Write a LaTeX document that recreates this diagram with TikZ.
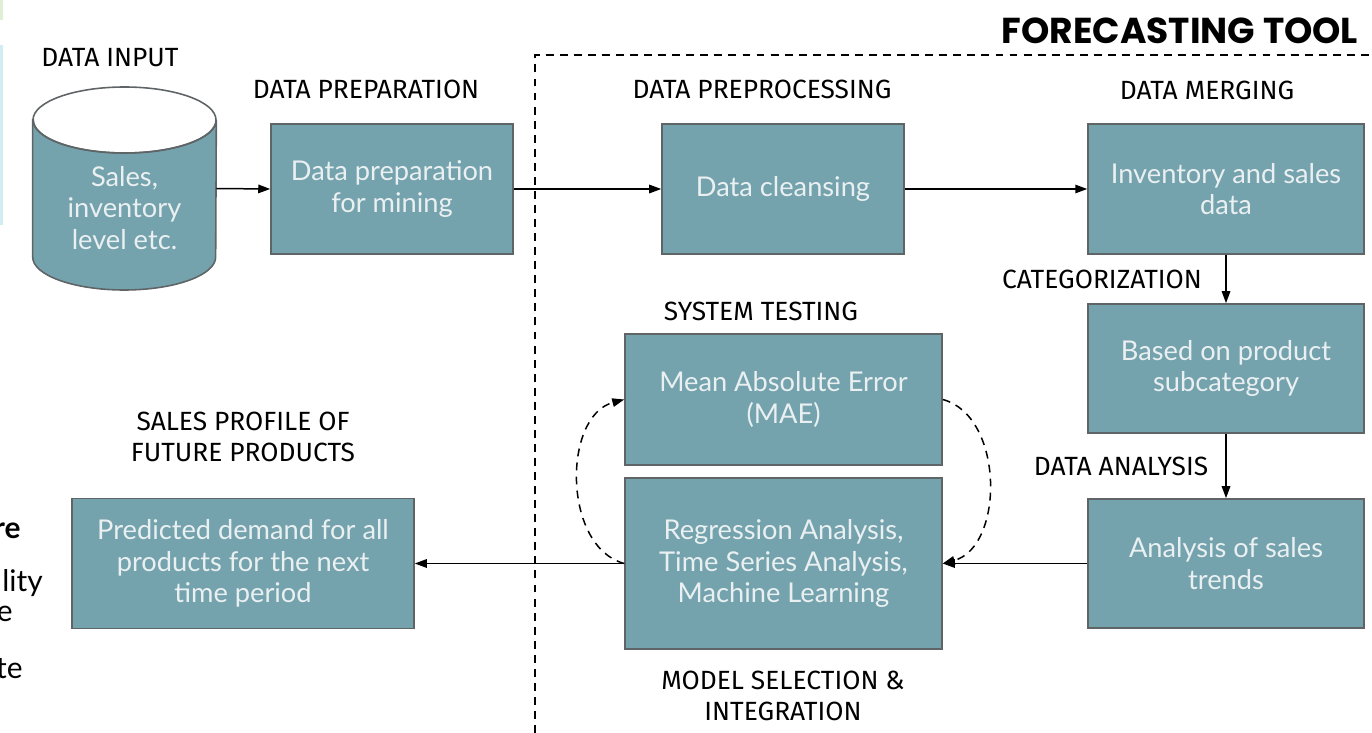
\documentclass[tikz,border=0pt]{standalone}
\usepackage{fontspec}
\setmainfont{Lato}
\newfontfamily\headfont{Fira Sans}
\newfontfamily\titlefont{Poppins}
\usetikzlibrary{arrows.meta}

\definecolor{boxteal}{RGB}{116,163,174}
\definecolor{boxline}{RGB}{95,100,102}
\definecolor{boxtext}{RGB}{234,240,241}
\definecolor{edgegreen}{RGB}{224,240,214}
\definecolor{edgecyan}{RGB}{208,238,242}

\begin{document}
\begin{tikzpicture}[x=0.02cm, y=-0.02cm,
  stage/.style={draw=boxline, fill=boxteal, line width=0.9pt, text=boxtext, align=center, inner sep=0pt,
    font=\fontsize{15.5}{18}\selectfont},
  head/.style={font=\headfont\fontsize{15}{18}\selectfont, align=center},
  flow/.style={-{Triangle[length=2.4mm,width=1.7mm]}, line width=0.85pt},
  loopback/.style={flow, dash pattern=on 4.5pt off 3.5pt},
  cutoff/.style={anchor=east, font=\fontsize{17}{18}\selectfont, inner sep=0pt}]
\useasboundingbox (0,0) rectangle (1372,733);

% bits of the slide behind
\fill[edgegreen] (0,0) rectangle (3,20);
\fill[edgecyan] (0,45) rectangle (3,225);
\node (frag1) at (21,531) [cutoff, font=\bfseries\fontsize{17}{18}\selectfont] {re};
\node (frag2) at (43,583) [cutoff] {lity};
\node (frag3) at (13,614) [cutoff] {e};
\node (frag4) at (23,669) [cutoff] {te};

% forecasting tool frame
\draw[line width=1.1pt, dash pattern=on 4.5pt off 3.5pt] (535,733) -- (535,55) -- (1372,55);
\node (tool) at (1180,31) [font=\titlefont\bfseries\fontsize{20.5}{22}\selectfont] {FORECASTING TOOL};

% data input cylinder
\node (db) at (124.5,188.5) [minimum width=3.66cm, minimum height=4.06cm, inner sep=0pt] {};
\filldraw[draw=boxline, fill=boxteal, line width=0.9pt]
  (db.west |- 0,120) -- (db.west |- 0,257)
  arc[start angle=180, end angle=0, x radius=91.5, y radius=33] -- (db.east |- 0,120)
  arc[start angle=0, end angle=180, x radius=91.5, y radius=33] -- cycle;
\draw[draw=boxline, line width=0.9pt] (124.5,120) ellipse[x radius=91.5, y radius=33];
\node (dbtext) at (124.5,208) [text=boxtext, align=center, font=\fontsize{15.5}{18}\selectfont] {Sales,\\inventory\\level etc.};

% stages
\node (prep) at (392,189) [stage, minimum width=4.84cm, minimum height=2.6cm] {Data preparation\\for mining};
\node (clean) at (783,189) [stage, minimum width=4.84cm, minimum height=2.6cm] {Data cleansing};
\node (merge) at (1226,189) [stage, minimum width=5.52cm, minimum height=2.6cm] {Inventory and sales\\data};
\node (categ) at (1226,368.5) [stage, minimum width=5.52cm, minimum height=2.58cm] {Based on product\\subcategory};
\node (trend) at (1226,563.5) [stage, minimum width=5.52cm, minimum height=2.58cm] {Analysis of sales\\trends};
\node (mae) at (783.5,399.5) [stage, minimum width=6.34cm, minimum height=2.62cm] {Mean Absolute Error\\(MAE)};
\node (model) at (783.5,563.5) [stage, minimum width=6.34cm, minimum height=3.42cm] {Regression Analysis,\\Time Series Analysis,\\Machine Learning};
\node (pred) at (243,563.5) [stage, minimum width=6.84cm, minimum height=2.6cm] {Predicted demand for all\\products for the next\\time period};

% headings
\node (hinput) at (110,58) [head] {DATA INPUT};
\node (hprep) at (366,89) [head] {DATA PREPARATION};
\node (hclean) at (762,89) [head] {DATA PREPROCESSING};
\node (hmerge) at (1207,90) [head] {DATA MERGING};
\node (hcateg) at (1102,279) [head] {CATEGORIZATION};
\node (htrend) at (1121,466) [head] {DATA ANALYSIS};
\node (hmae) at (761,311) [head] {SYSTEM TESTING};
\node (hmodel) at (783,696) [head] {MODEL SELECTION \&\\INTEGRATION};
\node (hpred) at (243,437) [head] {SALES PROFILE OF\\FUTURE PRODUCTS};

% connectors
\draw[flow] (db.east) -- (prep.west);
\draw[flow] (prep.east) -- (clean.west);
\draw[flow] (clean.east) -- (merge.west);
\draw[flow] (merge.south) -- (categ.north);
\draw[flow] (categ.south) -- (trend.north);
\draw[flow] (trend.west) -- (model.east);
\draw[flow] (model.west) -- (pred.east);
\draw[loopback] (model.west) to[bend left=75] (mae.west);
\draw[loopback] (mae.east) to[bend left=75] (model.east);

\end{tikzpicture}
\end{document}
